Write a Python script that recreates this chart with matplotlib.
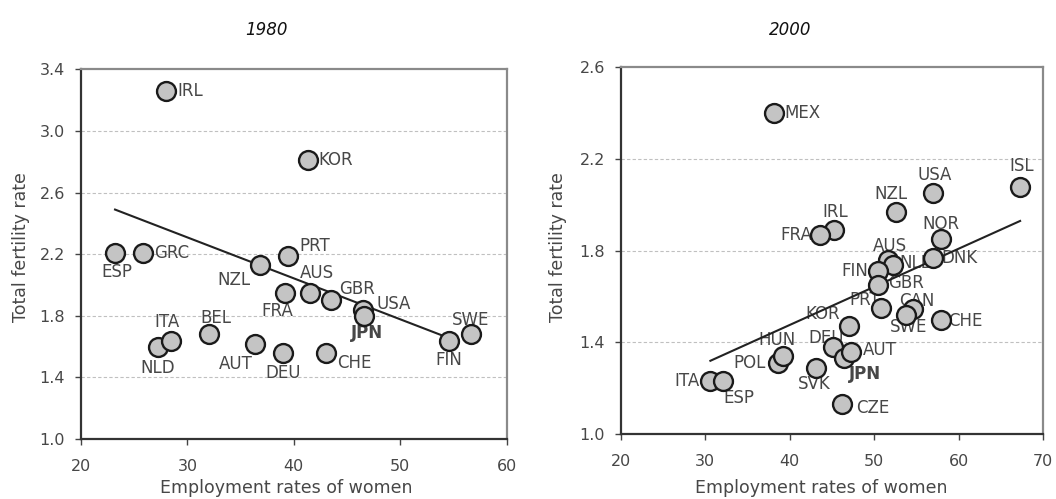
import numpy as np
import matplotlib
matplotlib.use("Agg")
import matplotlib.pyplot as plt

plt.rcParams['font.family'] = ['DejaVu Sans']

# 1980 panel
c1980 = ['IRL', 'KOR', 'PRT', 'ESP', 'GRC', 'NZL', 'FRA', 'AUS', 'GBR', 'USA',
         'JPN', 'SWE', 'FIN', 'CHE', 'DEU', 'AUT', 'NLD', 'ITA', 'BEL']
x1980 = [28.0, 41.3, 39.5, 23.2, 25.8, 36.8, 39.2, 41.5, 43.5, 46.5,
         46.6, 56.7, 54.6, 43.0, 39.0, 36.4, 27.2, 28.5, 32.0]
y1980 = [3.26, 2.81, 2.19, 2.21, 2.21, 2.13, 1.95, 1.95, 1.90, 1.84,
         1.80, 1.68, 1.64, 1.56, 1.56, 1.62, 1.60, 1.64, 1.68]
trend1980_x = [23.2, 55.0]
trend1980_y = [2.49, 1.645]

# 2000 panel
c2000 = ['MEX', 'ISL', 'USA', 'NZL', 'IRL', 'FRA', 'NOR', 'DNK', 'AUS', 'NLD',
         'FIN', 'GBR', 'PRT', 'CAN', 'SWE', 'CHE', 'KOR', 'DEU', 'JPN', 'AUT',
         'SVK', 'CZE', 'POL', 'HUN', 'ITA', 'ESP']
x2000 = [38.1, 67.3, 57.0, 52.6, 45.2, 43.6, 57.9, 57.0, 51.7, 52.2,
         50.5, 50.5, 50.8, 54.6, 53.8, 57.9, 47.0, 45.1, 46.4, 47.3,
         43.1, 46.2, 38.6, 39.2, 30.6, 32.1]
y2000 = [2.40, 2.08, 2.05, 1.97, 1.89, 1.87, 1.85, 1.77, 1.76, 1.74,
         1.71, 1.65, 1.55, 1.545, 1.52, 1.50, 1.47, 1.38, 1.33, 1.36,
         1.29, 1.13, 1.31, 1.34, 1.23, 1.23]
trend2000_x = [30.6, 67.3]
trend2000_y = [1.32, 1.93]

# label placement: (dx, dy in points, ha)
off1980 = {
    'IRL': (8, 0, 'left'), 'KOR': (8, 0, 'left'), 'PRT': (8, 7, 'left'),
    'ESP': (1, -14, 'center'), 'GRC': (8, 0, 'left'), 'NZL': (-7, -11, 'right'),
    'FRA': (-6, -13, 'center'), 'AUS': (5, 14, 'center'), 'GBR': (6, 8.5, 'left'),
    'USA': (10, 4, 'left'), 'JPN': (2, -12, 'center'), 'SWE': (-1, 10, 'center'),
    'FIN': (0, -14, 'center'), 'CHE': (8, -7, 'left'), 'DEU': (0, -14.5, 'center'),
    'AUT': (-2, -14.5, 'right'), 'NLD': (0, -15, 'center'), 'ITA': (-3, 13, 'center'),
    'BEL': (5, 12, 'center'),
}
off2000 = {
    'MEX': (8, 0, 'left'), 'ISL': (1, 15, 'center'), 'USA': (1, 13, 'center'),
    'NZL': (-3.5, 13, 'center'), 'IRL': (1, 13, 'center'), 'FRA': (-6, 0, 'right'),
    'NOR': (0, 11, 'center'), 'DNK': (6, 0, 'left'), 'AUS': (1, 10, 'center'),
    'NLD': (5, 1, 'left'), 'FIN': (-7, 0, 'right'), 'GBR': (7, 1.5, 'left'),
    'PRT': (-11.5, 6, 'center'), 'CAN': (3, 6, 'center'), 'SWE': (2, -9, 'center'),
    'CHE': (5, -1, 'left'), 'KOR': (-19, 9, 'center'), 'DEU': (-5, 6.5, 'center'),
    'JPN': (15, -11, 'center'), 'AUT': (8, 1, 'left'), 'SVK': (-1.5, -12, 'center'),
    'CZE': (10, -3, 'left'), 'POL': (-9, 0, 'right'), 'HUN': (-4, 12, 'center'),
    'ITA': (-8, 0, 'right'), 'ESP': (11.5, -12, 'center'),
}

txt = '#474747'
fig = plt.figure(figsize=(10.56, 4.99), dpi=100)
ax1 = fig.add_axes([0.0767, 0.120, 0.403, 0.741])
ax2 = fig.add_axes([0.588, 0.130, 0.3996, 0.735])


def draw(ax, names, xs, ys, tx, ty, offs, xlim, ylim, yticks):
    ax.set_xlim(*xlim)
    ax.set_ylim(*ylim)
    ax.set_yticks(yticks)
    ax.set_yticklabels(['%.1f' % v for v in yticks])
    ax.set_xticks(np.arange(xlim[0], xlim[1] + 1, 10))
    for v in yticks[1:-1]:
        ax.axhline(v, color='#c0c0c0', lw=0.8, ls=(0, (3, 2)), zorder=0)
    ax.plot(tx, ty, color='#222222', lw=1.5, zorder=2)
    for n, x, y in zip(names, xs, ys):
        dx, dy, ha = offs[n]
        ax.annotate(n, (x, y), xytext=(dx, dy), textcoords='offset points',
                    ha=ha, va='center', fontsize=12, color=txt,
                    fontweight='bold' if n == 'JPN' else 'normal', zorder=1)
    ax.scatter(xs, ys, s=185, facecolor='#c4c4c4', edgecolor='#1a1a1a',
               linewidth=1.7, zorder=3)
    for s in ['left', 'bottom']:
        ax.spines[s].set_color('#333333')
        ax.spines[s].set_linewidth(1.6)
    for s in ['top', 'right']:
        ax.spines[s].set_color('#8a8a8a')
        ax.spines[s].set_linewidth(1.6)
    ax.tick_params(direction='out', length=4.5, width=1, colors='#444444',
                   labelsize=11.5, labelcolor=txt)
    ax.tick_params(axis='x', pad=10)
    ax.tick_params(axis='y', pad=7)


draw(ax1, c1980, x1980, y1980, trend1980_x, trend1980_y, off1980,
     (20, 60), (1.0, 3.4), [1.0, 1.4, 1.8, 2.2, 2.6, 3.0, 3.4])
draw(ax2, c2000, x2000, y2000, trend2000_x, trend2000_y, off2000,
     (20, 70), (1.0, 2.6), [1.0, 1.4, 1.8, 2.2, 2.6])

fig.text(266 / 1056, 1 - 30 / 499, '1980', ha='center', va='center',
         fontsize=12, fontstyle='italic', color='#111111')
fig.text(790 / 1056, 1 - 30 / 499, '2000', ha='center', va='center',
         fontsize=12, fontstyle='italic', color='#111111')
for xc in [286, 821]:
    fig.text(xc / 1056, 1 - 488 / 499, 'Employment rates of women',
             ha='center', va='center', fontsize=12.5, color=txt)
for xc in [21, 558]:
    fig.text(xc / 1056, 1 - 247 / 499, 'Total fertility rate', ha='center',
             va='center', rotation=90, fontsize=12.5, color=txt)

fig.savefig('out.png', dpi=100)
